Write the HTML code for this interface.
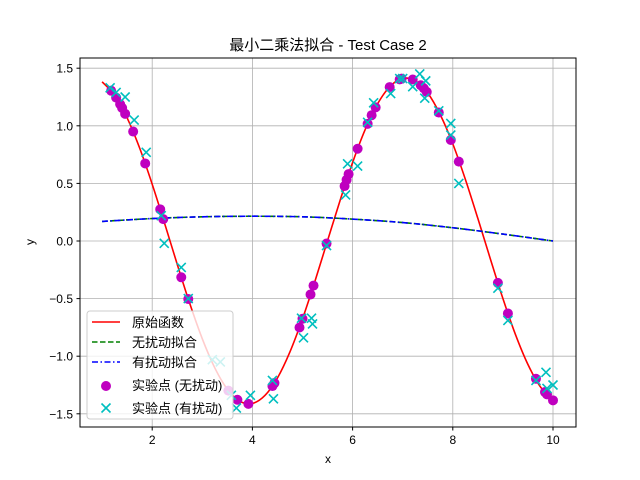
<!DOCTYPE html>
<html><head><meta charset="utf-8"><style>
body{margin:0;background:#fff}
svg{display:block;font-family:"Liberation Sans","Noto Sans CJK SC",sans-serif}
</style></head><body>
<svg id="chart" width="640" height="480" viewBox="0 0 640 480">
<rect width="640" height="480" fill="#fff"/>
<text x="328" y="50" font-size="15" text-anchor="middle">最小二乘法拟合 - Test Case 2</text>
<g id="grid"></g><g id="ticks"></g><g id="plot"></g>
<rect x="80" y="58" width="496" height="369" fill="none" stroke="#000" stroke-width="1"/>
<text x="328" y="463" font-size="12" text-anchor="middle">x</text>
<text x="34" y="242" font-size="12" text-anchor="middle" transform="rotate(-90 34 242)">y</text>
<g>
<rect x="87" y="311" width="146" height="108" rx="3" fill="#fff" fill-opacity="0.8" stroke="#ccc"/>
<g><line x1="92" y1="322" x2="120" y2="322" stroke="red" stroke-width="1.5"/><text x="132" y="327" font-size="13">原始函数</text></g>
<g><line x1="92" y1="342" x2="120" y2="342" stroke="#008000" stroke-width="1.5" stroke-dasharray="5.5,2.5"/><text x="132" y="347" font-size="13">无扰动拟合</text></g>
<g><line x1="92" y1="362" x2="120" y2="362" stroke="#0000ff" stroke-width="1.5" stroke-dasharray="6,2.5,1.5,2.5"/><text x="132" y="367" font-size="13">有扰动拟合</text></g>
<g><circle cx="106" cy="386" r="5" fill="#bf00bf"/><text x="132" y="390" font-size="13">实验点 (无扰动)</text></g>
<g><path d="M101.5,403.5 L110.5,412.5 M110.5,403.5 L101.5,412.5" stroke="#00bfbf" stroke-width="1.6"/><text x="132" y="413" font-size="13">实验点 (有扰动)</text></g>
</g>
</svg>
<script>
const xTicks=[2,4,6,8,10];
const yTicks=[-1.5,-1.0,-0.5,0.0,0.5,1.0,1.5];
const yTickLabels=["−1.5","−1.0","−0.5","0.0","0.5","1.0","1.5"];
const curveX=[1,1.25,1.5,1.75,2,2.25,2.5,2.75,3,3.25,3.5,3.75,4,4.25,4.5,4.75,5,5.25,5.5,5.75,6,6.25,6.5,6.75,7,7.25,7.5,7.75,8,8.25,8.5,8.75,9,9.25,9.5,9.75,10];
const curveY=[1.382,1.264,1.068,0.806,0.493,0.150,-0.203,-0.543,-0.849,-1.102,-1.287,-1.392,-1.410,-1.341,-1.189,-0.962,-0.675,-0.347,0.003,0.352,0.681,0.966,1.192,1.343,1.411,1.391,1.285,1.096,0.843,0.536,0.196,-0.156,-0.499,-0.811,-1.072,-1.267,-1.383];
const fitX=[1,2,3,4,5,6,7,8,9,10];
const fitCleanY=[0.17,0.195,0.21,0.215,0.21,0.19,0.16,0.115,0.06,0.0];
const fitNoisyY=[0.17,0.195,0.21,0.215,0.21,0.19,0.16,0.115,0.06,0.0];
const cleanX=[1.18,1.28,1.36,1.40,1.46,1.62,1.86,2.16,2.22,2.58,2.72,3.52,3.70,3.92,4.40,4.44,4.94,5.00,5.16,5.22,5.48,5.84,5.88,5.92,6.10,6.30,6.38,6.46,6.74,6.94,6.98,7.20,7.36,7.42,7.48,7.72,7.96,8.12,8.90,9.10,9.66,9.84,9.88,10.0];
const cleanY=[1.305,1.245,1.187,1.155,1.104,0.950,0.673,0.275,0.190,-0.315,-0.504,-1.299,-1.378,-1.414,-1.259,-1.233,-0.751,-0.675,-0.464,-0.387,-0.022,0.477,0.531,0.581,0.801,1.017,1.092,1.160,1.336,1.403,1.409,1.402,1.352,1.326,1.294,1.115,0.877,0.689,-0.364,-0.629,-1.196,-1.311,-1.331,-1.383];
const noisyX=[1.16,1.28,1.46,1.64,1.88,2.18,2.24,2.58,2.72,3.2,3.36,3.58,3.68,3.96,4.4,4.42,4.98,5.02,5.18,5.2,5.48,5.86,5.9,6.1,6.3,6.42,6.76,6.94,7.0,7.2,7.34,7.44,7.46,7.72,7.96,7.96,8.12,8.9,9.1,9.66,9.86,9.88,10.0];
const noisyY=[1.33,1.29,1.25,1.05,0.77,0.22,-0.02,-0.23,-0.50,-1.03,-1.05,-1.34,-1.45,-1.34,-1.21,-1.37,-0.67,-0.84,-0.67,-0.72,-0.04,0.40,0.67,0.65,1.03,1.20,1.28,1.41,1.41,1.34,1.45,1.24,1.39,1.13,1.02,0.92,0.50,-0.41,-0.69,-1.21,-1.14,-1.28,-1.25];

const NS="http://www.w3.org/2000/svg";
const sx=v=>52+v*50.1;
const sy=v=>241-v*115.2;
function mk(tag,attrs,parent){const e=document.createElementNS(NS,tag);for(const k in attrs)e.setAttribute(k,attrs[k]);parent.appendChild(e);return e;}
const grid=document.getElementById('grid'),ticks=document.getElementById('ticks'),plot=document.getElementById('plot');
xTicks.forEach(t=>{
  const g=mk('line',{x1:sx(t),x2:sx(t),y1:58,y2:427,stroke:'#b0b0b0','stroke-width':0.8},grid);
  
  
  mk('line',{x1:sx(t),x2:sx(t),y1:427,y2:430.5,stroke:'#000'},ticks);
  const l=mk('text',{x:sx(t),y:444,'font-size':12,'text-anchor':'middle'},ticks);
  l.textContent=t;
  
  
});
yTicks.forEach((t,i)=>{
  const g=mk('line',{x1:80,x2:576,y1:sy(t),y2:sy(t),stroke:'#b0b0b0','stroke-width':0.8},grid);
  
  
  mk('line',{x1:76.5,x2:80,y1:sy(t),y2:sy(t),stroke:'#000'},ticks);
  const l=mk('text',{x:73,y:sy(t)+4.5,'font-size':12,'text-anchor':'end'},ticks);
  l.textContent=yTickLabels[i];
  
  
});
function smooth(xs,ys){
  const p=xs.map((x,i)=>[sx(x),sy(ys[i])]);
  let d='M'+p[0][0]+','+p[0][1];
  for(let i=0;i<p.length-1;i++){
    const p0=p[Math.max(i-1,0)],p1=p[i],p2=p[i+1],p3=p[Math.min(i+2,p.length-1)];
    const c1=[p1[0]+(p2[0]-p0[0])/6,p1[1]+(p2[1]-p0[1])/6];
    const c2=[p2[0]-(p3[0]-p1[0])/6,p2[1]-(p3[1]-p1[1])/6];
    d+=' C'+c1+' '+c2+' '+p2;
  }
  return d;
}
const red=mk('path',{d:smooth(curveX,curveY),fill:'none',stroke:'red','stroke-width':1.6},plot);


const gr=mk('path',{d:smooth(fitX,fitCleanY),fill:'none',stroke:'#008000','stroke-width':1.6,'stroke-dasharray':'5.5,2.5'},plot);


const bl=mk('path',{d:smooth(fitX,fitNoisyY),fill:'none',stroke:'#0000ff','stroke-width':1.6,'stroke-dasharray':'6,2.5,1.5,2.5'},plot);


cleanX.forEach((x,i)=>{
  const c=mk('circle',{cx:sx(x),cy:sy(cleanY[i]),r:5,fill:'#bf00bf'},plot);
  
  
});
noisyX.forEach((x,i)=>{
  const X=sx(x),Y=sy(noisyY[i]);
  const c=mk('path',{d:`M${X-4.5},${Y-4.5} L${X+4.5},${Y+4.5} M${X+4.5},${Y-4.5} L${X-4.5},${Y+4.5}`,stroke:'#00bfbf','stroke-width':1.6},plot);
  
  
});
</script>
</body></html>
